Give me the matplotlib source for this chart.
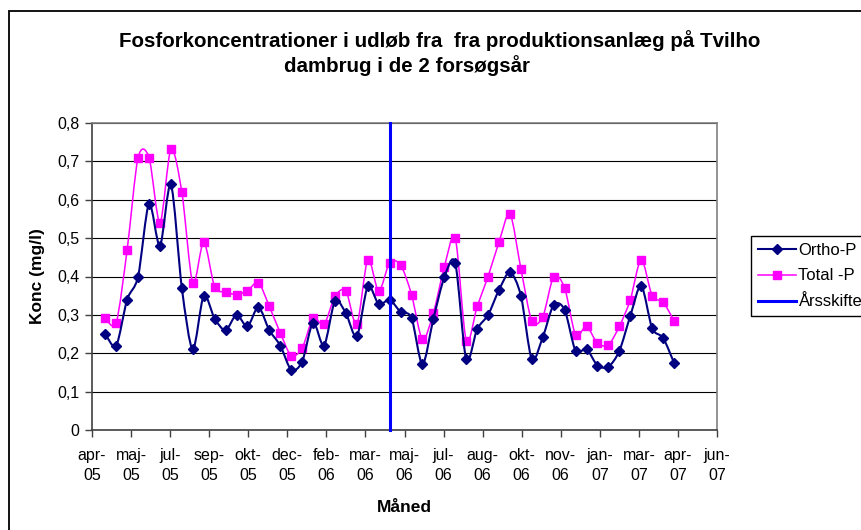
import matplotlib
matplotlib.use("Agg")
import matplotlib.pyplot as plt
import matplotlib.dates as mdates
from matplotlib.path import Path
from matplotlib.patches import PathPatch, Rectangle
from matplotlib.lines import Line2D
import numpy as np

plt.rcParams["font.family"] = ["Liberation Sans", "DejaVu Sans"]

# sampling dates (roughly every second week)
sample_dates = [
    "2005-04-25", "2005-05-09", "2005-05-23", "2005-06-06", "2005-06-20",
    "2005-07-04", "2005-07-18", "2005-08-01", "2005-08-15", "2005-08-29",
    "2005-09-12", "2005-09-26", "2005-10-10", "2005-10-24", "2005-11-07",
    "2005-11-21", "2005-12-05", "2005-12-19", "2006-01-02", "2006-01-16",
    "2006-01-30", "2006-02-13", "2006-02-27", "2006-03-13", "2006-03-27",
    "2006-04-10", "2006-04-24", "2006-05-08", "2006-05-22", "2006-06-05",
    "2006-06-19", "2006-07-03", "2006-07-17", "2006-07-31", "2006-08-14",
    "2006-08-28", "2006-09-11", "2006-09-25", "2006-10-09", "2006-10-23",
    "2006-11-06", "2006-11-20", "2006-12-04", "2006-12-18", "2007-01-01",
    "2007-01-15", "2007-01-29", "2007-02-12", "2007-02-26", "2007-03-12",
    "2007-03-26", "2007-04-09", "2007-04-23",
]
ortho_p = [
    0.25, 0.22, 0.34, 0.40, 0.59, 0.48, 0.64, 0.37, 0.21, 0.35,
    0.29, 0.26, 0.30, 0.27, 0.32, 0.26, 0.22, 0.157, 0.178, 0.28,
    0.22, 0.336, 0.304, 0.244, 0.374, 0.328, 0.339, 0.308, 0.292, 0.171,
    0.29, 0.398, 0.435, 0.184, 0.263, 0.30, 0.365, 0.411, 0.35, 0.184,
    0.242, 0.326, 0.313, 0.206, 0.211, 0.168, 0.165, 0.206, 0.297, 0.376,
    0.265, 0.24, 0.175,
]
total_p = [
    0.291, 0.28, 0.47, 0.71, 0.71, 0.54, 0.732, 0.62, 0.383, 0.49,
    0.373, 0.36, 0.353, 0.363, 0.384, 0.322, 0.253, 0.194, 0.213, 0.291,
    0.275, 0.348, 0.363, 0.275, 0.444, 0.362, 0.436, 0.43, 0.353, 0.236,
    0.305, 0.425, 0.50, 0.233, 0.322, 0.40, 0.49, 0.563, 0.42, 0.284,
    0.295, 0.40, 0.37, 0.248, 0.27, 0.226, 0.222, 0.27, 0.339, 0.444,
    0.35, 0.333, 0.285,
]
year_change = "2006-04-24"
x_start = "2005-04-08"
x_end = "2007-06-17"
tick_step_days = 50
danish_months = ["jan", "feb", "mar", "apr", "maj", "jun",
                 "jul", "aug", "sep", "okt", "nov", "dec"]


def smooth_path(x, y, k=1 / 7):
    # bezier through the points, roughly like Excel's smoothed lines
    pts = np.column_stack([x, y])
    padded = np.vstack([pts[0], pts, pts[-1]])
    verts = [pts[0]]
    codes = [Path.MOVETO]
    for i in range(1, len(padded) - 2):
        p0, p1, p2, p3 = padded[i - 1], padded[i], padded[i + 1], padded[i + 2]
        verts += [p1 + (p2 - p0) * k, p2 - (p3 - p1) * k, p2]
        codes += [Path.CURVE4] * 3
    return Path(verts, codes)


dates = np.array(sample_dates, dtype="datetime64[D]")
xd = mdates.date2num(dates)

fig = plt.figure(figsize=(8.62, 5.30), dpi=100)
ax = fig.add_axes([92 / 862, 1 - 430 / 530, (717 - 92) / 862, (430 - 123) / 530])

navy = "#000080"
magenta = "#FF00FF"
blue = "#0000FF"

ax.add_patch(PathPatch(smooth_path(xd, ortho_p), fill=False, ec=navy, lw=1.5, zorder=3))
ax.plot(xd, ortho_p, ls="none", marker="D", ms=5.5, color=navy, zorder=4)
ax.add_patch(PathPatch(smooth_path(xd, total_p), fill=False, ec=magenta, lw=1.1, zorder=2))
ax.plot(xd, total_p, ls="none", marker="s", ms=6, color=magenta, zorder=2.5)

yc = mdates.date2num(np.datetime64(year_change))
ax.plot([yc, yc], [0, 0.8], color=blue, lw=2.2, zorder=5, clip_on=False)

t0 = np.datetime64(x_start)
t1 = np.datetime64(x_end)
ticks = np.arange(t0, t1 + 1, tick_step_days)
ax.set_xlim(mdates.date2num(t0), mdates.date2num(t1))
ax.set_xticks(mdates.date2num(ticks))
labels = []
for t in ticks.astype(object):
    labels.append(f"{danish_months[t.month - 1]}-\n{t.year % 100:02d}")
ax.set_xticklabels(labels, fontsize=11.5, linespacing=1.45)

yt = np.arange(0, 0.81, 0.1)
ax.set_ylim(0, 0.8)
ax.set_yticks(yt)
ax.set_yticklabels(["0" if v == 0 else f"{v:.1f}".replace(".", ",") for v in yt], fontsize=11.5)

ax.yaxis.grid(True, color="black", lw=0.8)
ax.set_axisbelow(True)
ax.tick_params(axis="both", direction="out", length=5, width=1, color="#404040")
ax.tick_params(axis="x", pad=8)
ax.tick_params(axis="y", pad=4)
for s in ["top", "right"]:
    ax.spines[s].set_color("#808080")
    ax.spines[s].set_linewidth(1.2)
for s in ["left", "bottom"]:
    ax.spines[s].set_color("#404040")
    ax.spines[s].set_linewidth(1.2)

ax.set_ylabel("Konc (mg/l)", fontsize=12.5, fontweight="bold", labelpad=9)
ax.set_xlabel("Måned", fontsize=12.5, fontweight="bold", labelpad=12)

fig.text(440 / 862, 1 - 47 / 530, "Fosforkoncentrationer i udløb fra  fra produktionsanlæg på Tvilho",
         ha="center", va="baseline", fontsize=14.8, fontweight="bold")
fig.text(407 / 862, 1 - 72 / 530, "dambrug i de 2 forsøgsår",
         ha="center", va="baseline", fontsize=14.8, fontweight="bold")

handles = [
    Line2D([], [], color=navy, lw=1.5, marker="D", ms=5.5),
    Line2D([], [], color=magenta, lw=1.1, marker="s", ms=6),
    Line2D([], [], color=blue, lw=2.2),
]
leg = fig.legend(handles, ["Ortho-P", "Total -P", "Årsskifte"],
                 loc="upper left", bbox_to_anchor=(751 / 862, 1 - 236 / 530),
                 fontsize=12, frameon=True, fancybox=False, framealpha=1,
                 edgecolor="black", handlelength=2.3, handletextpad=0.15,
                 borderpad=0.4, labelspacing=0.65, borderaxespad=0)
leg.get_frame().set_linewidth(1.0)

fig.add_artist(Rectangle((9 / 862, -0.05), 1.1, 1 - 11 / 530 + 0.05, transform=fig.transFigure,
                         fill=False, ec="black", lw=1.3))

fig.savefig("out.png", dpi=100)
